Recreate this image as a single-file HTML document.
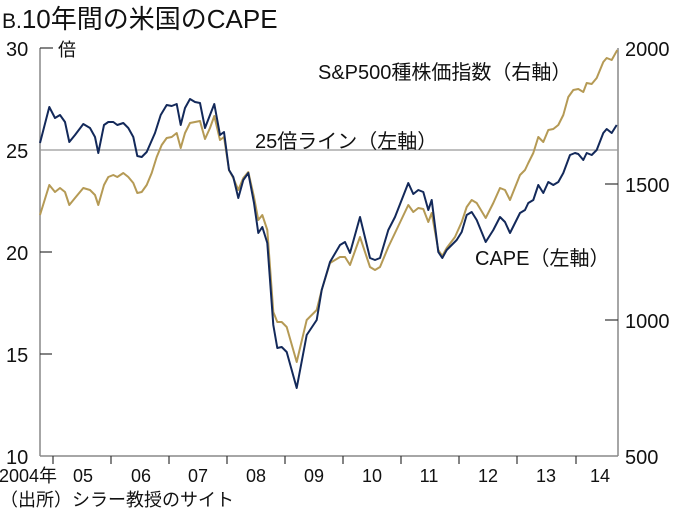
<!DOCTYPE html>
<html><head><meta charset="utf-8"><style>
body{margin:0;background:#fff;}
svg text{font-family:"Liberation Sans","Noto Sans CJK JP",sans-serif;fill:#111;}
</style></head><body>
<svg width="680" height="519" viewBox="0 0 680 519" xmlns="http://www.w3.org/2000/svg">
<text x="2" y="28" font-size="21">B.<tspan font-size="26">10年間の米国のCAPE</tspan></text>
<g font-size="20">
<text x="6" y="56">30</text><text x="6" y="158">25</text><text x="6" y="260">20</text><text x="6" y="362">15</text><text x="6" y="464">10</text>
<text x="625" y="56">2000</text><text x="625" y="192">1500</text><text x="625" y="328">1000</text><text x="625" y="464">500</text>
</g>
<text x="58" y="56" font-size="18">倍</text>
<line x1="40" y1="48" x2="40" y2="456" stroke="#888" stroke-width="1.5"/>
<line x1="618" y1="48" x2="618" y2="456" stroke="#888" stroke-width="1.5"/>
<line x1="40" y1="456" x2="618" y2="456" stroke="#888" stroke-width="1.5"/>
<line x1="40" y1="48" x2="53" y2="48" stroke="#333" stroke-width="1.2"/>
<line x1="40" y1="150" x2="618" y2="150" stroke="#999" stroke-width="1.2"/>
<g stroke="#333" stroke-width="1.2">
<line x1="40" y1="252" x2="52" y2="252"/><line x1="40" y1="354" x2="52" y2="354"/>
<line x1="605" y1="184" x2="618" y2="184"/><line x1="605" y1="320" x2="618" y2="320"/>
<line x1="53" y1="456" x2="53" y2="464"/><line x1="111" y1="456" x2="111" y2="464"/><line x1="169" y1="456" x2="169" y2="464"/><line x1="227" y1="456" x2="227" y2="464"/><line x1="285" y1="456" x2="285" y2="464"/><line x1="343" y1="456" x2="343" y2="464"/><line x1="401" y1="456" x2="401" y2="464"/><line x1="459" y1="456" x2="459" y2="464"/><line x1="517" y1="456" x2="517" y2="464"/><line x1="576" y1="456" x2="576" y2="464"/>
</g>
<g font-size="18" text-anchor="middle">
<text x="28" y="482">2004年</text><text x="83" y="482">05</text><text x="141" y="482">06</text><text x="198" y="482">07</text><text x="256" y="482">08</text><text x="314" y="482">09</text><text x="372" y="482">10</text><text x="429" y="482">11</text><text x="488" y="482">12</text><text x="546" y="482">13</text><text x="600" y="482">14</text>
</g>
<text x="0" y="506" font-size="18">（出所）シラー教授のサイト</text>
<polyline fill="none" stroke="#b59a55" stroke-width="2" stroke-linejoin="round" points="40,215 49.3,185 55,192 60,188 65,192 69.3,205 75,198 83.3,188 90,190 95,195 98.3,205 104,185 108.3,177 113.3,175 117.3,177 123.3,173 128.3,177 133.3,183 137.3,193 141.7,192 146.7,185 151.7,173 156.7,157 161.7,145 166.7,138 171.7,137 176.7,133 180.7,148 185,133 190,123 195,122 200,121 205,139 210,128 214.3,116 220,140 224,137 229,170 233.3,178 238.3,190 243.3,178 248.3,172 254,197 258.3,220 262.3,215 267.3,230 273.3,312 277.3,322 281.7,322 286.7,327 296.7,362 306.7,320 316.7,310 321.7,290 330,263 340,257 345,257 350,265 360,237 370,267 375,270 380,267 388.3,247 395,233 408.3,205 413.3,212 418.3,208 423.3,209 428.3,222 431.7,213 438.3,250 442.3,256 446.7,248 455,237 461.7,222 466.7,207 471.7,200 476.7,203 485.7,218 493.3,203 500,188 505,190 510,200 520,175 525,170 528.3,163 533.3,153 538.3,137 543.3,142 548.3,130 553.3,129 558.3,125 563.3,115 568.3,97 573.3,90 578.3,89 583.3,92 586.7,83 591.7,84 596.7,78 603.3,62 606.7,58 611.7,60 617.3,50"/>
<polyline fill="none" stroke="#13295a" stroke-width="2" stroke-linejoin="round" points="40,143 49.3,107 55,118 60,115 65,122 69.3,142 75,135 83.3,124 90,128 95,137 98.3,153 104,125 108.3,122 113.3,122 117.3,125 123.3,123 128.3,128 133.3,137 137.3,156 141.7,157 146.7,152 155,133 160.7,115 166.7,105 171.7,106 176.7,104 180.7,125 185,108 190,99 195,102 200,103 205,128 210,115 214.3,104 220,135 224,132 229,170 233.3,177 238.3,198 243.3,180 248.3,173 254,203 258.3,233 262.3,227 267.3,243 273.3,325 277.3,348 281.7,347 286.7,352 296.7,388 306.7,335 316.7,320 321.7,290 330,262 340,245 345,242 350,253 360,217 370,258 375,260 380,258 388.3,230 395,217 408.3,183 413.3,194 418.3,190 423.3,192 428.3,210 431.7,200 438.3,252 442.3,258 446.7,250 456.7,240 461.7,232 466.7,215 471.7,212 476.7,220 485.7,242 493.3,230 500,217 505,222 510,233 515,223 520,213 525,210 528.3,203 533.3,200 538.3,185 543.3,193 548.3,182 553.3,185 558.3,182 563.3,173 570,155 575,153 578.3,154 583.3,160 586.7,153 591.7,155 596.7,150 603.3,133 606.7,129 611.7,133 616.7,125"/>
<g font-size="20">
<text x="318" y="79">S&amp;P500種株価指数（右軸）</text>
<text x="255" y="148">25倍ライン（左軸）</text>
<text x="475" y="265">CAPE（左軸）</text>
</g>
</svg>
</body></html>
